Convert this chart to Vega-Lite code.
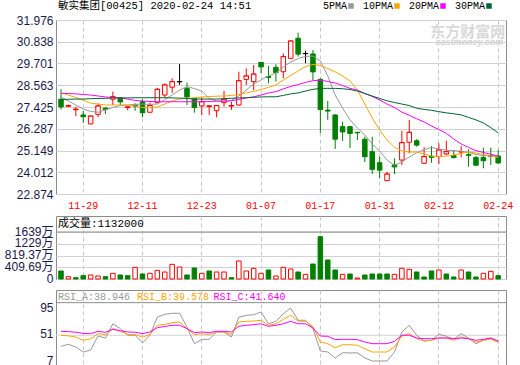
{
  "$schema": "https://vega.github.io/schema/vega-lite/v6.json",
  "background": "#ffffff",
  "padding": {"left": 3, "top": 1, "right": 10, "bottom": 0},
  "spacing": 4,
  "config": {
    "view": {"stroke": "#8c8c8c", "strokeWidth": 1},
    "axis": {"domain": false, "ticks": false, "labelFlush": false, "labelOverlap": false, "labelBound": false, "title": null}
  },
  "datasets": {
    "k": [
      {"d":"11-26","o":27.83,"h":28.35,"l":27.30,"c":27.44,"v":279,"5PMA":27.95,"10PMA":28.18,"20PMA":28.14,"30PMA":27.82,"RSI_A":32.6,"RSI_B":51,"RSI_C":57.5},
      {"d":"11-27","o":27.46,"h":27.55,"l":27.42,"c":27.50,"v":81,"5PMA":27.74,"10PMA":28.05,"20PMA":28.13,"30PMA":27.83,"RSI_A":36,"RSI_B":50,"RSI_C":57},
      {"d":"11-28","o":27.28,"h":27.44,"l":26.95,"c":27.31,"v":46,"5PMA":27.53,"10PMA":27.92,"20PMA":28.11,"30PMA":27.84,"RSI_A":31.5,"RSI_B":48,"RSI_C":56},
      {"d":"11-29","o":27.01,"h":27.23,"l":26.60,"c":26.92,"v":116,"5PMA":27.32,"10PMA":27.79,"20PMA":28.08,"30PMA":27.84,"RSI_A":23,"RSI_B":42.6,"RSI_C":54},
      {"d":"12-02","o":26.54,"h":26.97,"l":26.52,"c":26.95,"v":139,"5PMA":27.19,"10PMA":27.63,"20PMA":28.05,"30PMA":27.86,"RSI_A":26.5,"RSI_B":45,"RSI_C":53.6},
      {"d":"12-03","o":27.04,"h":27.62,"l":26.89,"c":27.48,"v":105,"5PMA":27.15,"10PMA":27.57,"20PMA":28.00,"30PMA":27.87,"RSI_A":49.7,"RSI_B":53.6,"RSI_C":57.5},
      {"d":"12-04","o":27.37,"h":27.40,"l":27.06,"c":27.31,"v":81,"5PMA":27.27,"10PMA":27.53,"20PMA":27.95,"30PMA":27.88,"RSI_A":46.4,"RSI_B":52,"RSI_C":55.8},
      {"d":"12-05","o":27.83,"h":28.23,"l":27.53,"c":27.96,"v":198,"5PMA":27.40,"10PMA":27.53,"20PMA":27.92,"30PMA":27.90,"RSI_A":70,"RSI_B":62,"RSI_C":60.9},
      {"d":"12-06","o":27.91,"h":27.93,"l":27.53,"c":27.70,"v":139,"5PMA":27.50,"10PMA":27.53,"20PMA":27.90,"30PMA":27.90,"RSI_A":62,"RSI_B":57.5,"RSI_C":58.5},
      {"d":"12-09","o":27.40,"h":27.46,"l":27.25,"c":27.43,"v":116,"5PMA":27.53,"10PMA":27.53,"20PMA":27.84,"30PMA":27.90,"RSI_A":51,"RSI_B":52.6,"RSI_C":56.4},
      {"d":"12-10","o":27.52,"h":27.62,"l":27.23,"c":27.48,"v":407,"5PMA":27.56,"10PMA":27.48,"20PMA":27.77,"30PMA":27.91,"RSI_A":51,"RSI_B":52,"RSI_C":56},
      {"d":"12-11","o":27.70,"h":27.83,"l":26.89,"c":27.13,"v":174,"5PMA":27.58,"10PMA":27.40,"20PMA":27.74,"30PMA":27.91,"RSI_A":38,"RSI_B":48,"RSI_C":53.6},
      {"d":"12-12","o":27.15,"h":27.65,"l":27.12,"c":27.50,"v":198,"5PMA":27.56,"10PMA":27.39,"20PMA":27.71,"30PMA":27.91,"RSI_A":51,"RSI_B":52,"RSI_C":56.4},
      {"d":"12-13","o":27.65,"h":28.43,"l":27.62,"c":28.35,"v":302,"5PMA":27.58,"10PMA":27.43,"20PMA":27.70,"30PMA":27.91,"RSI_A":81,"RSI_B":67.5,"RSI_C":63.5},
      {"d":"12-16","o":28.05,"h":28.66,"l":27.93,"c":28.58,"v":244,"5PMA":27.82,"10PMA":27.58,"20PMA":27.70,"30PMA":27.91,"RSI_A":85.7,"RSI_B":69,"RSI_C":65.5},
      {"d":"12-17","o":28.46,"h":28.93,"l":28.17,"c":28.75,"v":511,"5PMA":28.05,"10PMA":27.74,"20PMA":27.70,"30PMA":27.90,"RSI_A":87.4,"RSI_B":71.8,"RSI_C":67.5},
      {"d":"12-18","o":28.75,"h":29.67,"l":28.58,"c":28.75,"v":418,"5PMA":28.31,"10PMA":27.84,"20PMA":27.70,"30PMA":27.89,"RSI_A":87.4,"RSI_B":73,"RSI_C":67.5},
      {"d":"12-19","o":28.40,"h":28.70,"l":27.53,"c":27.96,"v":139,"5PMA":28.49,"10PMA":27.88,"20PMA":27.70,"30PMA":27.87,"RSI_A":64.7,"RSI_B":62,"RSI_C":62},
      {"d":"12-20","o":27.88,"h":27.90,"l":27.13,"c":27.41,"v":384,"5PMA":28.39,"10PMA":27.90,"20PMA":27.70,"30PMA":27.84,"RSI_A":37,"RSI_B":52,"RSI_C":55.3},
      {"d":"12-23","o":27.48,"h":27.95,"l":27.01,"c":27.70,"v":198,"5PMA":28.26,"10PMA":27.95,"20PMA":27.70,"30PMA":27.84,"RSI_A":44.2,"RSI_B":53.6,"RSI_C":56.4},
      {"d":"12-24","o":27.45,"h":27.53,"l":27.01,"c":27.48,"v":279,"5PMA":27.87,"10PMA":27.97,"20PMA":27.71,"30PMA":27.84,"RSI_A":44.2,"RSI_B":52,"RSI_C":55.3},
      {"d":"12-27","o":27.23,"h":27.52,"l":26.89,"c":27.50,"v":244,"5PMA":27.74,"10PMA":27.99,"20PMA":27.73,"30PMA":27.84,"RSI_A":56.4,"RSI_B":56.4,"RSI_C":57.5},
      {"d":"12-30","o":27.65,"h":28.26,"l":27.44,"c":27.84,"v":244,"5PMA":27.70,"10PMA":28.00,"20PMA":27.74,"30PMA":27.86,"RSI_A":56.4,"RSI_B":56.4,"RSI_C":57.5},
      {"d":"12-31","o":27.47,"h":27.70,"l":27.27,"c":27.50,"v":46,"5PMA":27.77,"10PMA":28.03,"20PMA":27.75,"30PMA":27.88,"RSI_A":48,"RSI_B":52.6,"RSI_C":56.4},
      {"d":"01-02","o":27.53,"h":29.27,"l":27.50,"c":28.80,"v":628,"5PMA":28.00,"10PMA":28.08,"20PMA":27.82,"30PMA":27.90,"RSI_A":81,"RSI_B":73,"RSI_C":65.8},
      {"d":"01-03","o":28.87,"h":29.45,"l":28.58,"c":29.05,"v":279,"5PMA":28.31,"10PMA":28.16,"20PMA":27.90,"30PMA":27.91,"RSI_A":84,"RSI_B":74,"RSI_C":67.5},
      {"d":"01-06","o":28.75,"h":29.62,"l":28.31,"c":29.15,"v":372,"5PMA":28.63,"10PMA":28.24,"20PMA":27.96,"30PMA":27.93,"RSI_A":85,"RSI_B":74.6,"RSI_C":68.5},
      {"d":"01-07","o":29.76,"h":29.78,"l":29.19,"c":29.53,"v":198,"5PMA":28.84,"10PMA":28.34,"20PMA":28.05,"30PMA":27.95,"RSI_A":89.5,"RSI_B":75.8,"RSI_C":70},
      {"d":"01-08","o":29.02,"h":29.57,"l":28.66,"c":28.98,"v":314,"5PMA":29.05,"10PMA":28.45,"20PMA":28.16,"30PMA":27.96,"RSI_A":70,"RSI_B":67.5,"RSI_C":65.8},
      {"d":"01-09","o":29.50,"h":29.66,"l":28.75,"c":29.24,"v":105,"5PMA":29.20,"10PMA":28.58,"20PMA":28.23,"30PMA":27.96,"RSI_A":74,"RSI_B":70,"RSI_C":67.5},
      {"d":"01-10","o":29.27,"h":30.23,"l":28.93,"c":30.06,"v":407,"5PMA":29.52,"10PMA":28.84,"20PMA":28.37,"30PMA":28.03,"RSI_A":86.7,"RSI_B":77.4,"RSI_C":70},
      {"d":"01-13","o":29.97,"h":30.90,"l":29.95,"c":30.88,"v":349,"5PMA":29.78,"10PMA":29.07,"20PMA":28.50,"30PMA":28.11,"RSI_A":96,"RSI_B":84,"RSI_C":74},
      {"d":"01-14","o":31.02,"h":31.31,"l":30.06,"c":30.20,"v":244,"5PMA":29.96,"10PMA":29.31,"20PMA":28.60,"30PMA":28.16,"RSI_A":75.8,"RSI_B":74.6,"RSI_C":70},
      {"d":"01-15","o":30.22,"h":30.37,"l":29.71,"c":30.22,"v":163,"5PMA":30.07,"10PMA":29.54,"20PMA":28.71,"30PMA":28.26,"RSI_A":75.8,"RSI_B":74,"RSI_C":70},
      {"d":"01-16","o":30.20,"h":30.41,"l":28.84,"c":29.27,"v":523,"5PMA":30.09,"10PMA":29.65,"20PMA":28.80,"30PMA":28.35,"RSI_A":62,"RSI_B":65.8,"RSI_C":63},
      {"d":"01-17","o":28.87,"h":28.93,"l":26.08,"c":27.30,"v":1476,"5PMA":29.83,"10PMA":29.60,"20PMA":28.83,"30PMA":28.40,"RSI_A":24.9,"RSI_B":39.8,"RSI_C":49.7},
      {"d":"01-20","o":27.26,"h":27.74,"l":26.75,"c":27.22,"v":663,"5PMA":29.05,"10PMA":29.44,"20PMA":28.76,"30PMA":28.40,"RSI_A":23.2,"RSI_B":37,"RSI_C":49.2},
      {"d":"01-21","o":27.01,"h":27.03,"l":25.23,"c":25.75,"v":314,"5PMA":28.05,"10PMA":29.26,"20PMA":28.68,"30PMA":28.40,"RSI_A":13.3,"RSI_B":30.4,"RSI_C":43.7},
      {"d":"01-22","o":26.40,"h":26.66,"l":25.65,"c":26.13,"v":163,"5PMA":27.37,"10PMA":29.05,"20PMA":28.55,"30PMA":28.38,"RSI_A":22,"RSI_B":35.3,"RSI_C":44.2},
      {"d":"01-23","o":26.40,"h":26.42,"l":25.27,"c":26.05,"v":174,"5PMA":26.75,"10PMA":28.79,"20PMA":28.40,"30PMA":28.34,"RSI_A":21.6,"RSI_B":35.3,"RSI_C":44.2},
      {"d":"01-24","o":26.10,"h":26.13,"l":25.70,"c":26.08,"v":35,"5PMA":26.33,"10PMA":28.31,"20PMA":28.31,"30PMA":28.26,"RSI_A":22,"RSI_B":34.3,"RSI_C":43.7},
      {"d":"01-29","o":25.74,"h":25.87,"l":24.55,"c":24.83,"v":139,"5PMA":25.96,"10PMA":27.58,"20PMA":28.13,"30PMA":28.13,"RSI_A":13.3,"RSI_B":28.7,"RSI_C":39.8},
      {"d":"01-30","o":25.09,"h":25.87,"l":23.92,"c":24.17,"v":174,"5PMA":25.49,"10PMA":26.85,"20PMA":27.98,"30PMA":28.00,"RSI_A":8.3,"RSI_B":23.2,"RSI_C":37},
      {"d":"01-31","o":24.51,"h":24.83,"l":23.70,"c":24.13,"v":174,"5PMA":25.12,"10PMA":26.22,"20PMA":27.79,"30PMA":27.87,"RSI_A":8.3,"RSI_B":23.2,"RSI_C":37},
      {"d":"02-03","o":23.57,"h":24.04,"l":23.55,"c":23.92,"v":174,"5PMA":24.65,"10PMA":25.70,"20PMA":27.58,"30PMA":27.75,"RSI_A":8.3,"RSI_B":23.2,"RSI_C":37},
      {"d":"02-04","o":24.40,"h":24.74,"l":23.92,"c":24.30,"v":163,"5PMA":24.37,"10PMA":25.33,"20PMA":27.40,"30PMA":27.66,"RSI_A":23.2,"RSI_B":31.5,"RSI_C":41},
      {"d":"02-05","o":24.65,"h":26.19,"l":24.39,"c":25.56,"v":372,"5PMA":24.55,"10PMA":25.12,"20PMA":27.16,"30PMA":27.58,"RSI_A":56.4,"RSI_B":49.7,"RSI_C":51},
      {"d":"02-06","o":25.58,"h":26.75,"l":25.00,"c":26.10,"v":337,"5PMA":24.81,"10PMA":25.07,"20PMA":26.99,"30PMA":27.50,"RSI_A":67.5,"RSI_B":53.6,"RSI_C":51},
      {"d":"02-07","o":25.66,"h":25.74,"l":25.35,"c":25.44,"v":244,"5PMA":25.03,"10PMA":25.07,"20PMA":26.81,"30PMA":27.36,"RSI_A":51,"RSI_B":45.3,"RSI_C":46.4},
      {"d":"02-10","o":24.48,"h":25.32,"l":24.46,"c":24.83,"v":70,"5PMA":25.20,"10PMA":24.97,"20PMA":26.64,"30PMA":27.30,"RSI_A":41.5,"RSI_B":41.5,"RSI_C":45.3},
      {"d":"02-11","o":24.85,"h":25.38,"l":24.51,"c":24.80,"v":279,"5PMA":25.31,"10PMA":24.85,"20PMA":26.43,"30PMA":27.25,"RSI_A":42.6,"RSI_B":42.6,"RSI_C":45.3},
      {"d":"02-12","o":24.83,"h":25.53,"l":24.44,"c":25.18,"v":314,"5PMA":25.23,"10PMA":24.83,"20PMA":26.24,"30PMA":27.18,"RSI_A":52.6,"RSI_B":46.4,"RSI_C":46.4},
      {"d":"02-13","o":24.97,"h":25.66,"l":24.91,"c":25.09,"v":174,"5PMA":25.16,"10PMA":24.86,"20PMA":26.05,"30PMA":27.12,"RSI_A":49.3,"RSI_B":46.4,"RSI_C":46.4},
      {"d":"02-14","o":24.88,"h":25.18,"l":24.74,"c":24.78,"v":70,"5PMA":25.14,"10PMA":24.91,"20PMA":25.75,"30PMA":27.07,"RSI_A":44.3,"RSI_B":42.6,"RSI_C":45.3},
      {"d":"02-17","o":25.07,"h":25.38,"l":24.79,"c":25.09,"v":314,"5PMA":25.11,"10PMA":25.00,"20PMA":25.49,"30PMA":27.01,"RSI_A":53.6,"RSI_B":48,"RSI_C":46.4},
      {"d":"02-18","o":24.93,"h":25.21,"l":24.30,"c":24.90,"v":244,"5PMA":25.05,"10PMA":25.07,"20PMA":25.31,"30PMA":26.88,"RSI_A":46.4,"RSI_B":45.3,"RSI_C":45.3},
      {"d":"02-19","o":24.79,"h":24.86,"l":24.34,"c":24.39,"v":70,"5PMA":24.94,"10PMA":25.02,"20PMA":25.14,"30PMA":26.75,"RSI_A":37,"RSI_B":39.8,"RSI_C":42.6},
      {"d":"02-20","o":24.79,"h":25.30,"l":24.22,"c":24.62,"v":198,"5PMA":24.89,"10PMA":24.94,"20PMA":25.05,"30PMA":26.59,"RSI_A":42.6,"RSI_B":42.6,"RSI_C":44.2},
      {"d":"02-21","o":24.87,"h":25.30,"l":24.39,"c":24.85,"v":267,"5PMA":24.86,"10PMA":24.86,"20PMA":24.95,"30PMA":26.35,"RSI_A":46.4,"RSI_B":44.3,"RSI_C":46.4},
      {"d":"02-24","o":24.86,"h":25.18,"l":24.44,"c":24.51,"v":116,"5PMA":24.83,"10PMA":24.79,"20PMA":24.86,"30PMA":26.07,"RSI_A":38.9,"RSI_B":39.6,"RSI_C":41.6}
    ]
  },
  "vconcat": [
    {
      "width": 450,
      "height": 174,
      "layer": [
        {
          "data": {"name": "k"},
          "mark": {"type": "rule", "strokeWidth": 1},
          "encoding": {
            "x": {"field": "d", "type": "ordinal", "sort": null, "title": null,
              "scale": {"type": "band", "domain": ["11-26","11-27","11-28","11-29","12-02","12-03","12-04","12-05","12-06","12-09","12-10","12-11","12-12","12-13","12-16","12-17","12-18","12-19","12-20","12-23","12-24","12-27","12-30","12-31","01-02","01-03","01-06","01-07","01-08","01-09","01-10","01-13","01-14","01-15","01-16","01-17","01-20","01-21","01-22","01-23","01-24","01-29","01-30","01-31","02-03","02-04","02-05","02-06","02-07","02-10","02-11","02-12","02-13","02-14","02-17","02-18","02-19","02-20","02-21","02-24"], "paddingInner": 0, "paddingOuter": 0.364, "align": 0.24},
              "axis": {"values": ["11-29","12-11","12-23","01-07","01-17","01-31","02-12","02-24"], "title": null, "grid": true, "gridDash": [4,3], "gridColor": "#c8c8c8", "labelColor": "#ff0000", "labelFont": "Liberation Mono", "labelFontSize": 10, "labelAngle": 0, "labelPadding": 6, "labelOverlap": false, "bandPosition": 0.5}},
            "y": {"field": "l", "type": "quantitative", "title": null, "scale": {"domain": [22.874, 31.976], "nice": false, "zero": false},
              "axis": {"values": [22.874,24.012,25.149,26.287,27.425,28.563,29.701,30.838,31.976], "tickCount": 20, "format": ".3f", "title": null, "grid": true, "gridColor": "#d2d2d2", "labelColor": "#1a1a4a", "labelFont": "Liberation Sans", "labelFontSize": 12, "labelPadding": 3, "labelOverlap": false}},
            "y2": {"field": "h"},
            "color": {"condition": [{"test": "datum.c > datum.o", "value": "#ff0000"}, {"test": "datum.c < datum.o", "value": "#008000"}], "value": "#000000"}
          }
        },
        {
          "data": {"name": "k"},
          "mark": {"type": "bar", "size": 4.5, "strokeWidth": 1},
          "encoding": {
            "x": {"field": "d", "type": "ordinal", "sort": null, "title": null},
            "y": {"field": "o", "type": "quantitative", "title": null},
            "y2": {"field": "c"},
            "fill": {"condition": [{"test": "datum.c > datum.o", "value": "#ffffff"}, {"test": "datum.c < datum.o", "value": "#008000"}], "value": "#000000"},
            "stroke": {"condition": [{"test": "datum.c > datum.o", "value": "#ff0000"}, {"test": "datum.c < datum.o", "value": "#008000"}], "value": "#000000"}
          }
        },
        {
          "data": {"name": "k"},
          "mark": {"type": "tick", "thickness": 1, "size": 5.5},
          "encoding": {
            "x": {"field": "d", "type": "ordinal", "sort": null, "title": null},
            "y": {"field": "c", "type": "quantitative", "title": null},
            "color": {"condition": [{"test": "datum.c > datum.o", "value": "#ff0000"}, {"test": "datum.c < datum.o", "value": "#008000"}], "value": "#000000"}
          }
        },
        {
          "data": {"name": "k"},
          "transform": [{"fold": ["5PMA", "10PMA", "20PMA", "30PMA"], "as": ["key", "val"]}],
          "mark": {"type": "line", "strokeWidth": 1},
          "encoding": {
            "x": {"field": "d", "type": "ordinal", "sort": null, "title": null},
            "y": {"field": "val", "type": "quantitative", "title": null},
            "color": {"field": "key", "type": "nominal",
              "scale": {"domain": ["5PMA", "10PMA", "20PMA", "30PMA"], "range": ["#999999", "#ffa500", "#ff00ff", "#006633"]},
              "legend": {"orient": "none", "legendX": 2, "legendY": -19, "direction": "horizontal",
                "title": "敏实集团[00425] 2020-02-24 14:51", "titleOrient": "left", "titleAnchor": "start", "titleBaseline": "top", "titleFont": "Liberation Mono, Noto Sans CJK SC", "titleFontSize": 10.5, "titleFontWeight": "normal", "titleColor": "#000000", "titlePadding": 94, "titleLimit": 400,
                "symbolType": "square", "symbolSize": 30, "symbolStrokeWidth": 0, "labelFont": "Liberation Mono", "labelFontSize": 10, "labelColor": "#000000", "columnPadding": 8, "labelOffset": 3, "padding": 0,
                "labelExpr": "datum.label == '5PMA' ? ' 5PMA' : datum.label",
                "encode": {
                  "symbols": {"update": {"fill": {"scale": "color", "field": "value"}, "stroke": {"value": "transparent"}}},
                  "labels": {"update": {"align": {"value": "right"}, "dx": {"value": -12}}}
                }}}
          }
        },
        {
          "data": {"values": [{}]},
          "mark": {"type": "text", "font": "Noto Sans CJK SC", "fontSize": 15, "fontWeight": "bold", "color": "#d9d9d9", "align": "right", "baseline": "middle", "dx": 7},
          "encoding": {
            "x": {"datum": "02-24", "type": "ordinal", "title": null},
            "y": {"datum": 31.35, "type": "quantitative", "title": null},
            "text": {"value": "东方财富网"}
          }
        },
        {
          "data": {"values": [{}]},
          "mark": {"type": "text", "font": "Liberation Sans", "fontSize": 9, "fontWeight": "bold", "fontStyle": "italic", "color": "#d2d2d2", "align": "right", "baseline": "middle", "dx": 5},
          "encoding": {
            "x": {"datum": "02-24", "type": "ordinal", "title": null},
            "y": {"datum": 30.83, "type": "quantitative", "title": null},
            "text": {"value": "eastmoney.com"}
          }
        }
      ]
    },
    {
      "width": 450,
      "height": 63,
      "layer": [
        {
          "data": {"name": "k"},
          "transform": [{"window": [{"op": "lag", "field": "c", "as": "pc"}]}],
          "mark": {"type": "bar", "size": 4.5, "strokeWidth": 1},
          "encoding": {
            "x": {"field": "d", "type": "ordinal", "sort": null, "title": null,
              "scale": {"type": "band", "domain": ["11-26","11-27","11-28","11-29","12-02","12-03","12-04","12-05","12-06","12-09","12-10","12-11","12-12","12-13","12-16","12-17","12-18","12-19","12-20","12-23","12-24","12-27","12-30","12-31","01-02","01-03","01-06","01-07","01-08","01-09","01-10","01-13","01-14","01-15","01-16","01-17","01-20","01-21","01-22","01-23","01-24","01-29","01-30","01-31","02-03","02-04","02-05","02-06","02-07","02-10","02-11","02-12","02-13","02-14","02-17","02-18","02-19","02-20","02-21","02-24"], "paddingInner": 0, "paddingOuter": 0.364, "align": 0.24},
              "axis": {"values": ["11-29","12-11","12-23","01-07","01-17","01-31","02-12","02-24"], "title": null, "grid": true, "gridDash": [4,3], "gridColor": "#c8c8c8", "labels": false, "labelPadding": 0, "tickSize": 0, "bandPosition": 0.5, "minExtent": 0, "maxExtent": 0}},
            "y": {"field": "v", "type": "quantitative", "title": null, "scale": {"domain": [0, 2197], "nice": false},
              "axis": {"values": [0, 409.69, 819.37, 1229, 1639], "tickCount": 20, "labelExpr": "datum.value == 0 ? '0' : datum.value + '万'", "title": null, "grid": true, "gridColor": "#d2d2d2", "labelColor": "#1a1a4a", "labelFont": "Liberation Sans, Noto Sans CJK SC", "labelFontSize": 12, "labelPadding": 3, "labelOffset": -1, "labelOverlap": false}},
            "fill": {"condition": {"test": "datum.pc != null && datum.c >= datum.pc", "value": "#ffffff"}, "value": "#008000"},
            "stroke": {"condition": {"test": "datum.pc != null && datum.c >= datum.pc", "value": "#ff0000"}, "value": "#008000"}
          }
        },
        {
          "data": {"values": [{}]},
          "mark": {"type": "rule", "color": "#8c8c8c", "strokeWidth": 1},
          "encoding": {"y": {"datum": 1639, "type": "quantitative", "title": null}}
        },
        {
          "data": {"values": [{}]},
          "mark": {"type": "text", "font": "Liberation Mono, Noto Sans CJK SC", "fontSize": 11, "color": "#000000", "align": "left", "baseline": "middle", "dx": -3},
          "encoding": {
            "x": {"datum": "11-26", "type": "ordinal", "title": null},
            "y": {"datum": 1918, "type": "quantitative", "title": null},
            "text": {"value": "成交量:1132000"}
          }
        }
      ]
    },
    {
      "width": 450,
      "height": 76,
      "layer": [
        {
          "data": {"values": [{}]},
          "mark": {"type": "rule", "color": "#d2d2d2", "strokeWidth": 1},
          "encoding": {"y": {"datum": 51, "type": "quantitative", "title": null}}
        },
        {
          "data": {"values": [{}]},
          "mark": {"type": "rule", "color": "#8c8c8c", "strokeWidth": 1},
          "encoding": {"y": {"datum": 105, "type": "quantitative", "title": null}}
        },
        {
          "data": {"name": "k"},
          "transform": [{"fold": ["RSI_A", "RSI_B", "RSI_C"], "as": ["key", "val"]}],
          "mark": {"type": "line", "strokeWidth": 1},
          "encoding": {
            "x": {"field": "d", "type": "ordinal", "sort": null, "title": null,
              "scale": {"type": "band", "domain": ["11-26","11-27","11-28","11-29","12-02","12-03","12-04","12-05","12-06","12-09","12-10","12-11","12-12","12-13","12-16","12-17","12-18","12-19","12-20","12-23","12-24","12-27","12-30","12-31","01-02","01-03","01-06","01-07","01-08","01-09","01-10","01-13","01-14","01-15","01-16","01-17","01-20","01-21","01-22","01-23","01-24","01-29","01-30","01-31","02-03","02-04","02-05","02-06","02-07","02-10","02-11","02-12","02-13","02-14","02-17","02-18","02-19","02-20","02-21","02-24"], "paddingInner": 0, "paddingOuter": 0.364, "align": 0.24},
              "axis": {"values": ["11-29","12-11","12-23","01-07","01-17","01-31","02-12","02-24"], "title": null, "grid": true, "gridDash": [4,3], "gridColor": "#c8c8c8", "labels": false, "labelPadding": 0, "tickSize": 0, "bandPosition": 0.5, "minExtent": 0, "maxExtent": 0}},
            "y": {"field": "val", "type": "quantitative", "title": null, "scale": {"domain": [0, 126], "nice": false},
              "axis": {"values": [7, 51, 95], "tickCount": 20, "title": null, "grid": false, "labelColor": "#1a1a4a", "labelFont": "Liberation Sans", "labelFontSize": 12, "labelPadding": 3, "labelOffset": -1.5, "labelOverlap": false}},
            "stroke": {"field": "key", "type": "nominal", "scale": {"domain": ["RSI_A", "RSI_B", "RSI_C"], "range": ["#999999", "#ffa500", "#ff00ff"]}, "legend": null}
          }
        },
        {
          "data": {"values": [{}]},
          "mark": {"type": "text", "font": "Liberation Mono", "fontSize": 10, "color": "#999999", "align": "left", "baseline": "middle", "dx": -3},
          "encoding": {
            "x": {"datum": "11-26", "type": "ordinal", "title": null},
            "y": {"datum": 115.2, "type": "quantitative", "title": null},
            "text": {"value": "RSI_A:38.946"}
          }
        },
        {
          "data": {"values": [{}]},
          "mark": {"type": "text", "font": "Liberation Mono", "fontSize": 10, "color": "#ffa500", "align": "left", "baseline": "middle", "dx": 2},
          "encoding": {
            "x": {"datum": "12-10", "type": "ordinal", "title": null},
            "y": {"datum": 115.2, "type": "quantitative", "title": null},
            "text": {"value": "RSI_B:39.578"}
          }
        },
        {
          "data": {"values": [{}]},
          "mark": {"type": "text", "font": "Liberation Mono", "fontSize": 10, "color": "#ff00ff", "align": "left", "baseline": "middle", "dx": -3},
          "encoding": {
            "x": {"datum": "12-27", "type": "ordinal", "title": null},
            "y": {"datum": 115.2, "type": "quantitative", "title": null},
            "text": {"value": "RSI_C:41.640"}
          }
        }
      ]
    }
  ]
}
